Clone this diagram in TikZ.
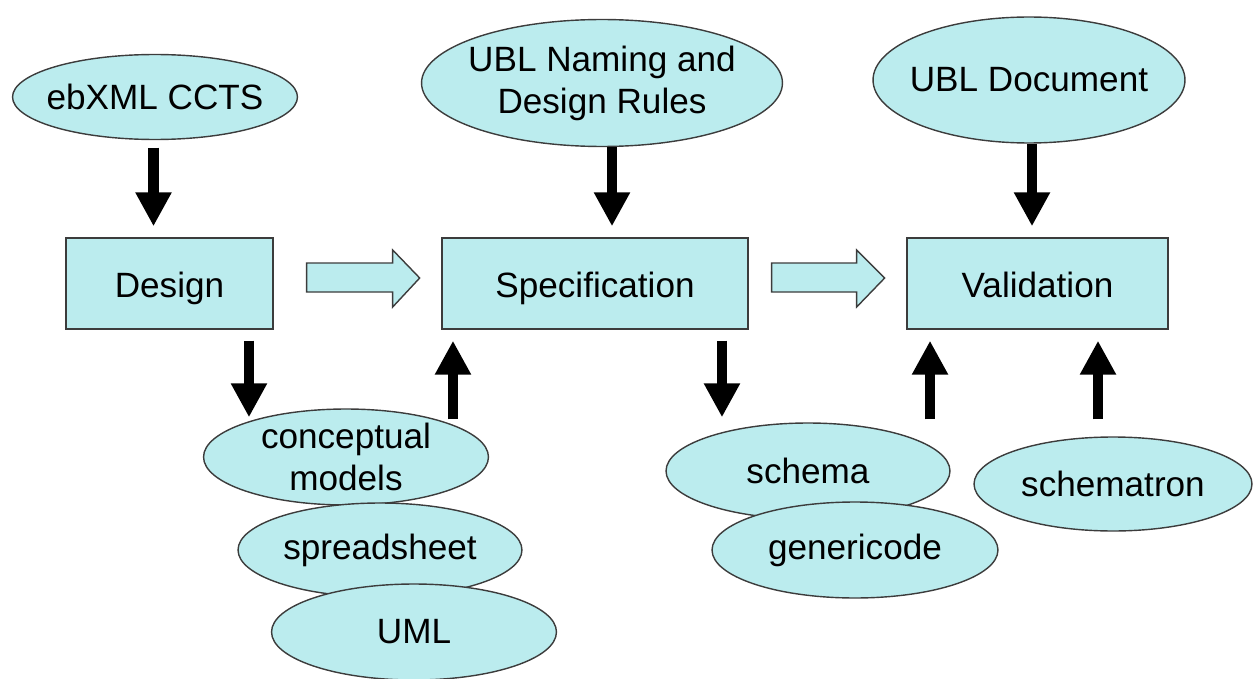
\documentclass[tikz,border=0pt]{standalone}
\usepackage{fontspec}
\setmainfont{Liberation Sans}
\usetikzlibrary{arrows.meta, shapes.geometric}

\definecolor{ublfill}{RGB}{187,236,238}
\definecolor{ublline}{RGB}{60,60,60}

\begin{document}
\begin{tikzpicture}[
    x=0.02cm, y=-0.02cm,
    stage/.style={rectangle, draw=ublline, line width=0.8pt, fill=ublfill,
                  inner sep=0pt, text height=20pt, text depth=3.6pt,
                  font=\fontsize{20}{24}\selectfont},
    src/.style={ellipse, draw=ublline, line width=0.8pt, fill=ublfill,
                inner sep=-8pt, align=center, font=\fontsize{20}{24}\selectfont},
    blk/.style={-{Triangle[width=0.68cm, length=0.68cm]}, line width=0.21cm, black},
    hollow/.style={draw=ublline, line width=0.8pt, fill=ublfill, line join=miter},
]
\useasboundingbox (0,0) rectangle (1254,679);

% Stages
\node[stage, minimum width=4.14cm, minimum height=1.82cm] (design) at (169.5,283.5) {Design};
\node[stage, minimum width=6.12cm, minimum height=1.82cm] (spec) at (595,283.5) {Specification};
\node[stage, minimum width=5.22cm, minimum height=1.82cm] (valid) at (1037.5,283.5) {Validation};

% Inputs on top
\node[src, minimum width=5.7cm, minimum height=1.7cm] (ebxml) at (155,97) {ebXML CCTS};
\node[src, minimum width=7.22cm, minimum height=2.54cm] (ndr) at (602,83) {UBL Naming and\\Design Rules};
\node[src, minimum width=6.24cm, minimum height=2.52cm] (ubldoc) at (1029,80) {UBL Document};

% Artefacts below
\node[src, minimum width=5.7cm, minimum height=1.92cm] (concept) at (346,457) {conceptual\\models};
\node[src, minimum width=5.68cm, minimum height=1.88cm] (sheet) at (380,550) {spreadsheet};
\node[src, minimum width=5.7cm, minimum height=1.92cm] (uml) at (414,632) {UML};
\node[src, minimum width=5.68cm, minimum height=1.92cm] (schema) at (808,471) {schema};
\node[src, minimum width=5.72cm, minimum height=1.92cm] (gencode) at (855,550) {genericode};
\node[src, minimum width=5.56cm, minimum height=1.88cm] (schtron) at (1113,484) {schematron};

% Flow between stages
\draw[hollow] ([shift={(33,-20.5)}]design.east) -- ++(86,0) -- ++(0,-13) -- ++(27,28)
    -- ++(-27,29) -- ++(0,-15) -- ++(-86,0) -- cycle;
\draw[hollow] ([shift={(23,-20.5)}]spec.east) -- ++(85,0) -- ++(0,-13) -- ++(28,28)
    -- ++(-28,29) -- ++(0,-15) -- ++(-85,0) -- cycle;

% Inputs into stages
\draw[blk, shorten <=0.15cm, shorten >=0.22cm] ([xshift=-0.03cm]ebxml.south) -- ([xshift=-0.03cm]ebxml.south |- design.north);
\draw[blk, shorten >=0.22cm] ([xshift=0.2cm]ndr.south) -- ([xshift=0.2cm]ndr.south |- spec.north);
\draw[blk, shorten >=0.22cm] ([xshift=0.06cm]ubldoc.south) -- ([xshift=0.06cm]ubldoc.south |- valid.north);

% Outputs and feedback
\draw[blk, shorten <=0.22cm, shorten >=-0.18cm] ([xshift=1.59cm]design.south) -- ([xshift=1.59cm]design.south |- concept.north);
\draw[blk, shorten <=-0.22cm, shorten >=0.22cm] ([xshift=2.14cm]concept.north) -- ([xshift=2.14cm]concept.north |- spec.south);
\draw[blk, shorten <=0.22cm, shorten >=0.1cm] ([xshift=2.54cm]spec.south) -- ([xshift=2.54cm]spec.south |- schema.north);
\draw[blk, shorten <=0.06cm, shorten >=0.22cm] ([xshift=-2.15cm]valid.south |- schema.north) -- ([xshift=-2.15cm]valid.south);
\draw[blk, shorten <=0.34cm, shorten >=0.22cm] ([xshift=-0.3cm]schtron.north) -- ([xshift=-0.3cm]schtron.north |- valid.south);

\end{tikzpicture}
\end{document}
